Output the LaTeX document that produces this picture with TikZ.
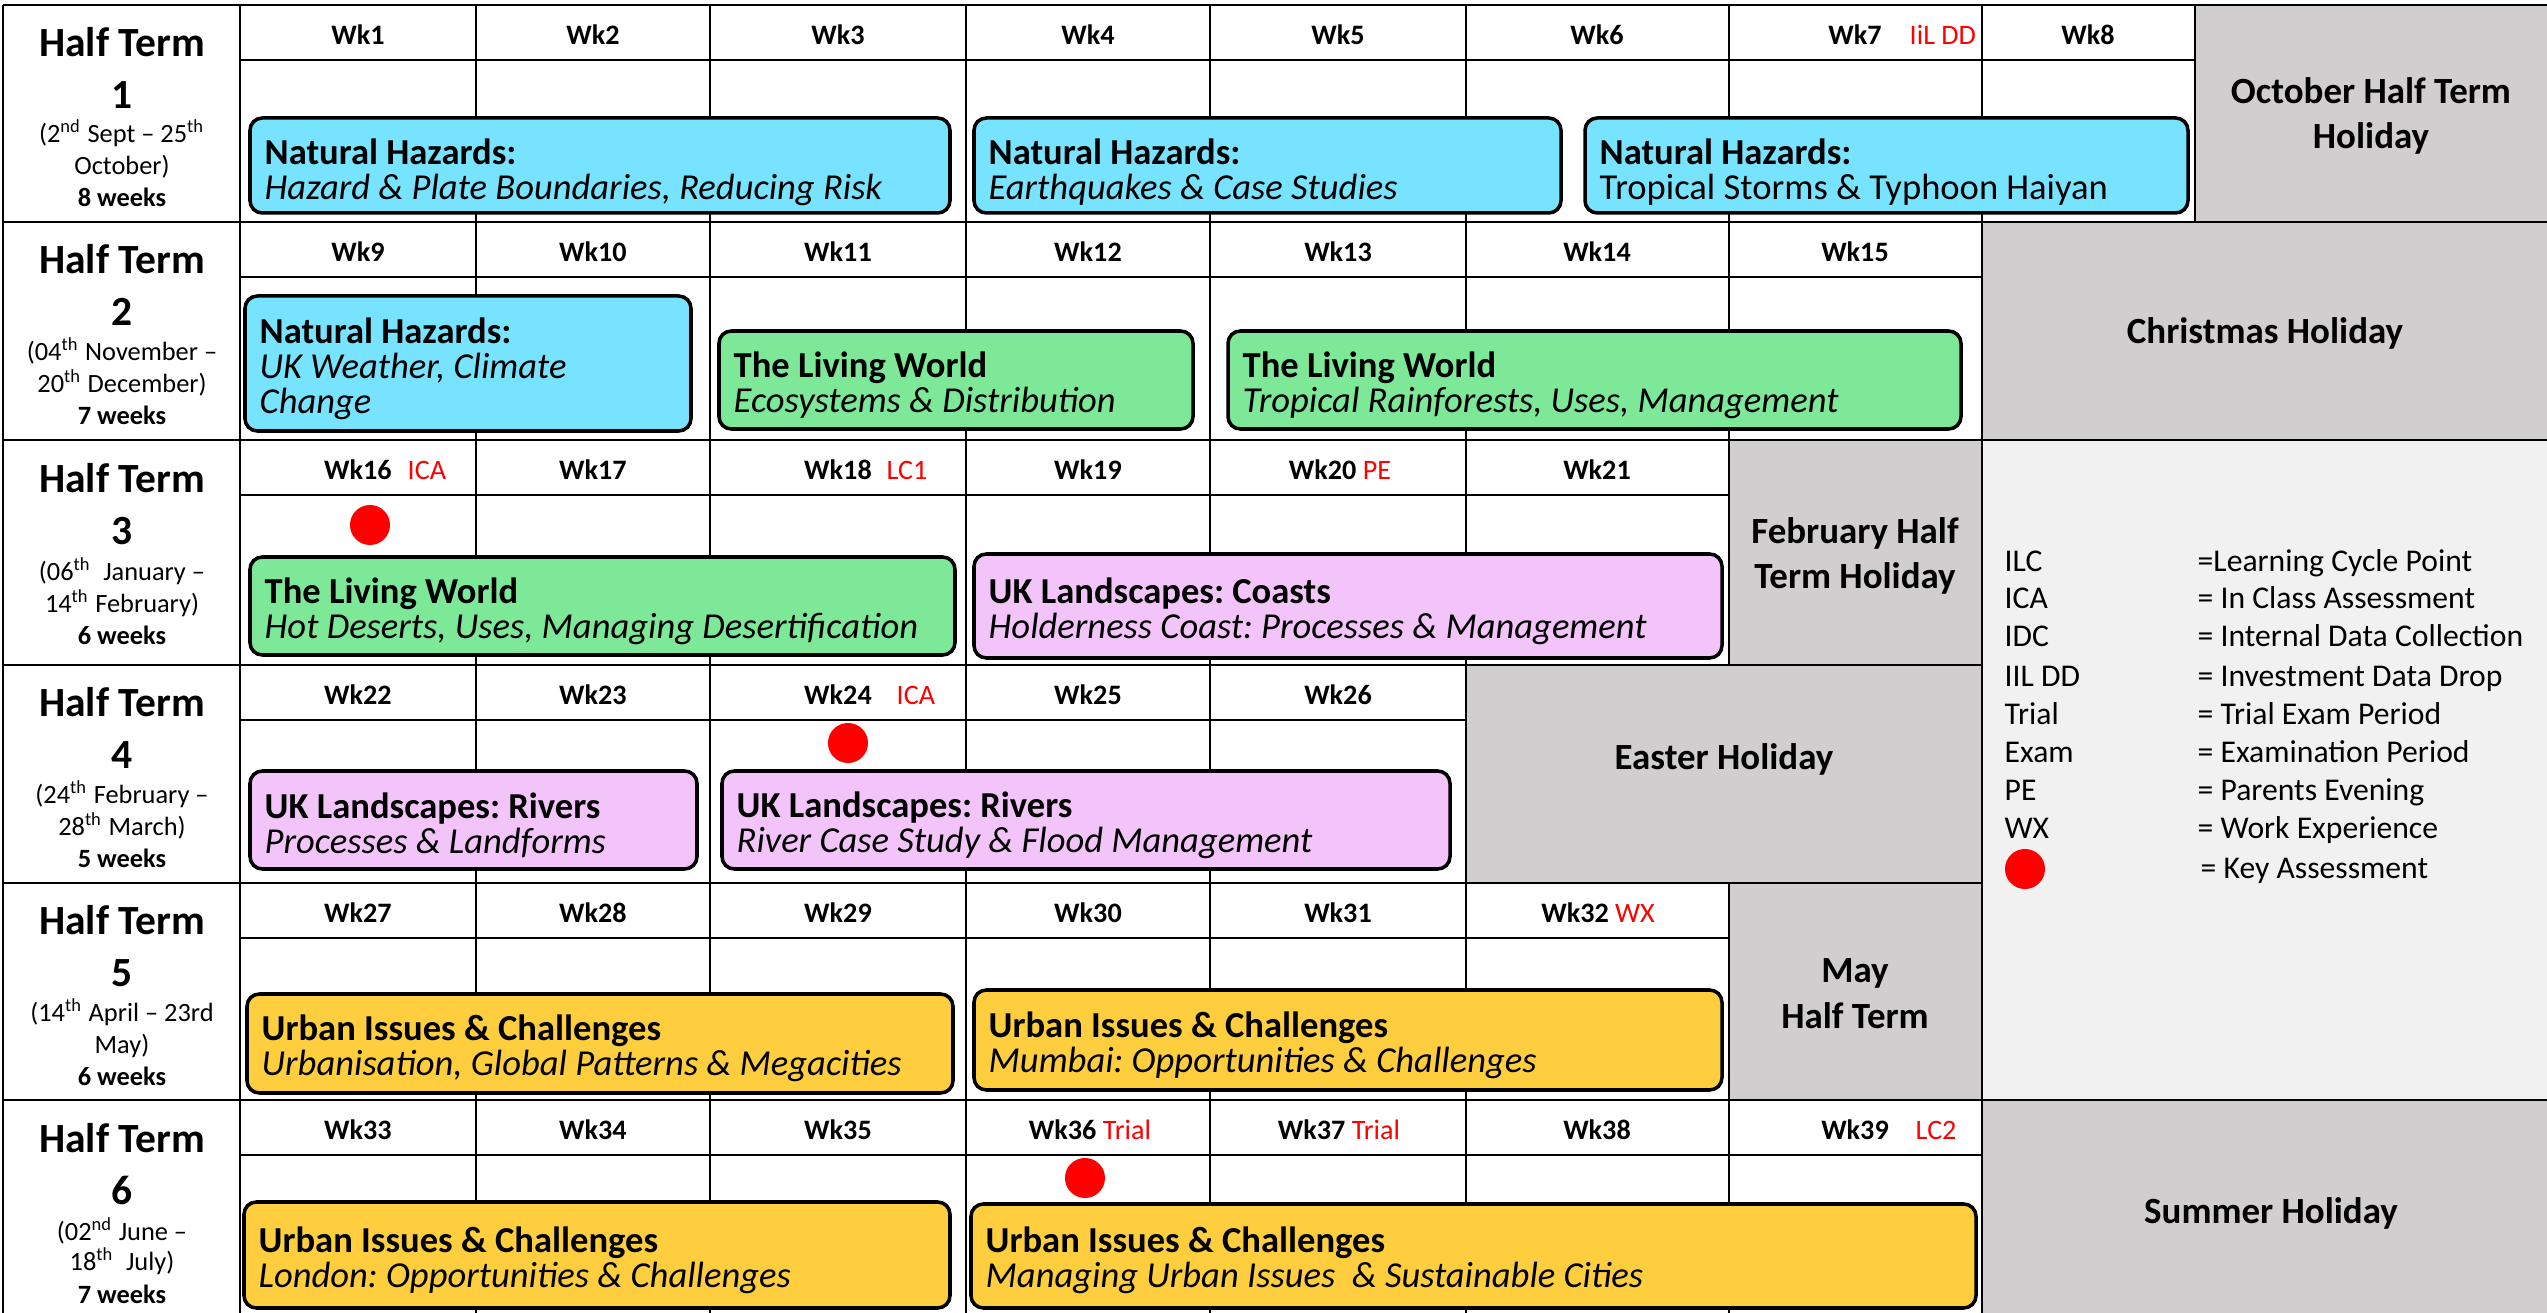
\documentclass[tikz,border=0pt]{standalone}
\usepackage{fontspec}
\setmainfont{Carlito}
\frenchspacing
\definecolor{hazardcol}{RGB}{120,227,255}
\definecolor{livingcol}{RGB}{125,232,151}
\definecolor{landcol}{RGB}{243,196,250}
\definecolor{urbancol}{RGB}{254,206,62}
\definecolor{holcol}{RGB}{208,206,206}
\definecolor{keycol}{RGB}{241,241,241}
\tikzset{
  rowline/.style={line width=0.7pt},
  wklabel/.style={font=\fontsize{8}{9.6}\selectfont\bfseries, inner sep=0pt},
  flag/.style={font=\fontsize{8}{9.6}\selectfont, text=red, inner sep=0pt, anchor=west},
  htlabel/.style={font=\fontsize{11.8}{14}\selectfont\bfseries, inner sep=0pt, anchor=base},
  htdates/.style={font=\fontsize{7.5}{9}\selectfont, inner sep=0pt, anchor=base},
  htweeks/.style={font=\fontsize{7.5}{9}\selectfont\bfseries, inner sep=0pt, anchor=base},
  unit/.style={draw, line width=1pt, rounded corners=3.5pt},
  unittext/.style={anchor=west, align=left, inner sep=0pt, font=\fontsize{10.4}{9.9}\selectfont},
  holtext/.style={align=center, inner sep=0pt, font=\fontsize{10.5}{13}\selectfont\bfseries},
  keydot/.style={circle, fill=red, inner sep=0pt, minimum size=0.4cm},
  keytext/.style={anchor=base west, inner sep=0pt, font=\fontsize{9}{11}\selectfont},
}
\begin{document}
\begin{tikzpicture}[x=0.01cm, y=-0.01cm]
  \useasboundingbox (0,0) rectangle (2547,1313);
  \clip (0,0) rectangle (2547,1313);
  \fill[white] (0,0) rectangle (2547,1313);
  % key panel behind rows 3-5
  \fill[keycol] (1982,440) rectangle (2547,1100);

  % half term 1
  \begin{scope}[shift={(0,5)}]
    \fill[holcol] (2195,0) rectangle (2547,217);
    \draw[rowline] (3,0) -- (2547,0) (240,55) -- (2195,55);
    \draw[rowline] (3,0) -- (3,217) (240,0) -- (240,217) (476,0) -- (476,217) (710,0) -- (710,217)
      (966,0) -- (966,217) (1210,0) -- (1210,217) (1466,0) -- (1466,217) (1729,0) -- (1729,217)
      (1982,0) -- (1982,217) (2195,0) -- (2195,217);

    \node[htlabel] (ht1) at (122,52) {Half Term};
    \node[htlabel] (num1) at (122,104) {1};
    \node[htdates] (date1a) at (122,138) {(2\textsuperscript{nd} Sept -- 25\textsuperscript{th}};
    \node[htdates] (date1b) at (122,170) {October)};
    \node[htweeks] (wks1) at (122,202) {8 weeks};

    \node[wklabel] (wk1) at (358,30) {Wk1};
    \node[wklabel] (wk2) at (593,30) {Wk2};
    \node[wklabel] (wk3) at (838,30) {Wk3};
    \node[wklabel] (wk4) at (1088,30) {Wk4};
    \node[wklabel] (wk5) at (1338,30) {Wk5};
    \node[wklabel] (wk6) at (1597,30) {Wk6};
    \node[wklabel] (wk7) at (1855,30) {Wk7};
    \node[flag] (flag7) at (1909,30) {IiL DD};
    \node[wklabel] (wk8) at (2088,30) {Wk8};

    \draw[unit, fill=hazardcol] (250,113) rectangle (950,208);
    \node[unittext] (unit1a) at (264,167) {\textbf{Natural Hazards:}\\\textit{Hazard \& Plate Boundaries, Reducing Risk}};
    \draw[unit, fill=hazardcol] (974,113) rectangle (1561,208);
    \node[unittext] (unit1b) at (988,167) {\textbf{Natural Hazards:}\\\textit{Earthquakes \& Case Studies}};
    \draw[unit, fill=hazardcol] (1585,113) rectangle (2188,208);
    \node[unittext] (unit1c) at (1599,167) {\textbf{Natural Hazards:}\\Tropical Storms \& Typhoon Haiyan};

    \node[holtext] (hol1) at (2371,111) {October Half Term\\Holiday};
  \end{scope}

  % half term 2
  \begin{scope}[shift={(0,222)}]
    \fill[holcol] (1982,0) rectangle (2547,218);
    \draw[rowline] (3,0) -- (2547,0) (240,55) -- (1982,55);
    \draw[rowline] (3,0) -- (3,218) (240,0) -- (240,218) (476,0) -- (476,218) (710,0) -- (710,218)
      (966,0) -- (966,218) (1210,0) -- (1210,218) (1466,0) -- (1466,218) (1729,0) -- (1729,218)
      (1982,0) -- (1982,218);

    \node[htlabel] (ht2) at (122,52) {Half Term};
    \node[htlabel] (num2) at (122,104) {2};
    \node[htdates] (date2a) at (122,139) {(04\textsuperscript{th} November --};
    \node[htdates] (date2b) at (122,171) {20\textsuperscript{th} December)};
    \node[htweeks] (wks2) at (122,203) {7 weeks};

    \node[wklabel] (wk9) at (358,30) {Wk9};
    \node[wklabel] (wk10) at (593,30) {Wk10};
    \node[wklabel] (wk11) at (838,30) {Wk11};
    \node[wklabel] (wk12) at (1088,30) {Wk12};
    \node[wklabel] (wk13) at (1338,30) {Wk13};
    \node[wklabel] (wk14) at (1597,30) {Wk14};
    \node[wklabel] (wk15) at (1855,30) {Wk15};

    \draw[unit, fill=hazardcol] (245,74) rectangle (691,209);
    \node[unittext] (unit2a) at (259,147) {\textbf{Natural Hazards:}\\\textit{UK Weather, Climate}\\\textit{Change}};
    \draw[unit, fill=livingcol] (719,109) rectangle (1193,207);
    \node[unittext] (unit2b) at (733,163) {\textbf{The Living World}\\\textit{Ecosystems \& Distribution}};
    \draw[unit, fill=livingcol] (1228,109) rectangle (1961,207);
    \node[unittext] (unit2c) at (1242,163) {\textbf{The Living World}\\\textit{Tropical Rainforests, Uses, Management}};

    \node[holtext, anchor=base] (hol2) at (2265,122) {Christmas Holiday};
  \end{scope}

  % half term 3
  \begin{scope}[shift={(0,440)}]
    \fill[holcol] (1729,0) rectangle (1982,225);
    \draw[rowline] (3,0) -- (2547,0) (240,55) -- (1729,55);
    \draw[rowline] (3,0) -- (3,225) (240,0) -- (240,225) (476,0) -- (476,225) (710,0) -- (710,225)
      (966,0) -- (966,225) (1210,0) -- (1210,225) (1466,0) -- (1466,225) (1729,0) -- (1729,225)
      (1982,0) -- (1982,225);

    \node[htlabel] (ht3) at (122,53) {Half Term};
    \node[htlabel] (num3) at (122,105) {3};
    \node[htdates] (date3a) at (122,141) {(06\textsuperscript{th}\ \ January --};
    \node[htdates] (date3b) at (122,173) {14\textsuperscript{th} February)};
    \node[htweeks] (wks3) at (122,205) {6 weeks};

    \node[wklabel] (wk16) at (358,30) {Wk16};
    \node[flag] (flag16) at (407,30) {ICA};
    \node[wklabel] (wk17) at (593,30) {Wk17};
    \node[wklabel] (wk18) at (838,30) {Wk18};
    \node[flag] (flag18) at (886,30) {LC1};
    \node[wklabel] (wk19) at (1088,30) {Wk19};
    \node[wklabel] (wk20) at (1340,30) {Wk20 \textcolor{red}{\mdseries PE}};
    \node[wklabel] (wk21) at (1597,30) {Wk21};

    \node[keydot] (dot16) at (370,85) {};

    \draw[unit, fill=livingcol] (250,117) rectangle (955,215);
    \node[unittext] (unit3a) at (264,171) {\textbf{The Living World}\\\textit{Hot Deserts, Uses, Managing Desertification}};
    \draw[unit, fill=landcol] (974,114) rectangle (1722,218);
    \node[unittext] (unit3b) at (988,171) {\textbf{UK Landscapes: Coasts}\\\textit{Holderness Coast: Processes \& Management}};

    \node[holtext] (hol3) at (1855,116) {February Half\\Term Holiday};
  \end{scope}

  % half term 4
  \begin{scope}[shift={(0,665)}]
    \fill[holcol] (1466,0) rectangle (1982,218);
    \draw[rowline] (3,0) -- (1982,0) (240,55) -- (1466,55);
    \draw[rowline] (3,0) -- (3,218) (240,0) -- (240,218) (476,0) -- (476,218) (710,0) -- (710,218)
      (966,0) -- (966,218) (1210,0) -- (1210,218) (1466,0) -- (1466,218) (1982,0) -- (1982,218);

    \node[htlabel] (ht4) at (122,52) {Half Term};
    \node[htlabel] (num4) at (122,104) {4};
    \node[htdates] (date4a) at (122,139) {(24\textsuperscript{th} February --};
    \node[htdates] (date4b) at (122,171) {28\textsuperscript{th} March)};
    \node[htweeks] (wks4) at (122,203) {5 weeks};

    \node[wklabel] (wk22) at (358,30) {Wk22};
    \node[wklabel] (wk23) at (593,30) {Wk23};
    \node[wklabel] (wk24) at (838,30) {Wk24};
    \node[flag] (flag24) at (896,30) {ICA};
    \node[wklabel] (wk25) at (1088,30) {Wk25};
    \node[wklabel] (wk26) at (1338,30) {Wk26};

    \node[keydot] (dot24) at (848,78) {};

    \draw[unit, fill=landcol] (250,106) rectangle (697,204);
    \node[unittext] (unit4a) at (264,160) {\textbf{UK Landscapes: Rivers}\\\textit{Processes \& Landforms}};
    \draw[unit, fill=landcol] (722,106) rectangle (1450,204);
    \node[unittext] (unit4b) at (736,160) {\textbf{UK Landscapes: Rivers}\\\textit{River Case Study \& Flood Management}};

    \node[holtext, anchor=base] (hol4) at (1724,105) {Easter Holiday};
  \end{scope}

  % half term 5
  \begin{scope}[shift={(0,883)}]
    \fill[holcol] (1729,0) rectangle (1982,217);
    \draw[rowline] (3,0) -- (1982,0) (240,55) -- (1729,55);
    \draw[rowline] (3,0) -- (3,217) (240,0) -- (240,217) (476,0) -- (476,217) (710,0) -- (710,217)
      (966,0) -- (966,217) (1210,0) -- (1210,217) (1466,0) -- (1466,217) (1729,0) -- (1729,217)
      (1982,0) -- (1982,217);

    \node[htlabel] (ht5) at (122,52) {Half Term};
    \node[htlabel] (num5) at (122,104) {5};
    \node[htdates] (date5a) at (122,139) {(14\textsuperscript{th} April -- 23rd};
    \node[htdates] (date5b) at (122,171) {May)};
    \node[htweeks] (wks5) at (122,203) {6 weeks};

    \node[wklabel] (wk27) at (358,30) {Wk27};
    \node[wklabel] (wk28) at (593,30) {Wk28};
    \node[wklabel] (wk29) at (838,30) {Wk29};
    \node[wklabel] (wk30) at (1088,30) {Wk30};
    \node[wklabel] (wk31) at (1338,30) {Wk31};
    \node[wklabel] (wk32) at (1598,30) {Wk32 \textcolor{red}{\mdseries WX}};

    \draw[unit, fill=urbancol] (247,111) rectangle (953,210);
    \node[unittext] (unit5a) at (261,165) {\textbf{Urban Issues \& Challenges}\\\textit{Urbanisation, Global Patterns \& Megacities}};
    \draw[unit, fill=urbancol] (974,107) rectangle (1722,207);
    \node[unittext] (unit5b) at (988,162) {\textbf{Urban Issues \& Challenges}\\\textit{Mumbai: Opportunities \& Challenges}};

    \node[holtext] (hol5) at (1855,111) {May\\Half Term};
  \end{scope}

  % half term 6
  \begin{scope}[shift={(0,1100)}]
    \fill[holcol] (1982,0) rectangle (2547,220);
    \draw[rowline] (3,0) -- (2547,0) (240,55) -- (1982,55);
    \draw[rowline] (3,0) -- (3,220) (240,0) -- (240,220) (476,0) -- (476,220) (710,0) -- (710,220)
      (966,0) -- (966,220) (1210,0) -- (1210,220) (1466,0) -- (1466,220) (1729,0) -- (1729,220)
      (1982,0) -- (1982,220);

    \node[htlabel] (ht6) at (122,53) {Half Term};
    \node[htlabel] (num6) at (122,105) {6};
    \node[htdates] (date6a) at (122,141) {(02\textsuperscript{nd} June --};
    \node[htdates] (date6b) at (122,171) {18\textsuperscript{th}\ \ July)};
    \node[htweeks] (wks6) at (122,204) {7 weeks};

    \node[wklabel] (wk33) at (358,30) {Wk33};
    \node[wklabel] (wk34) at (593,30) {Wk34};
    \node[wklabel] (wk35) at (838,30) {Wk35};
    \node[wklabel] (wk36) at (1090,30) {Wk36 \textcolor{red}{\mdseries Trial}};
    \node[wklabel] (wk37) at (1339,30) {Wk37 \textcolor{red}{\mdseries Trial}};
    \node[wklabel] (wk38) at (1597,30) {Wk38};
    \node[wklabel] (wk39) at (1855,30) {Wk39};
    \node[flag] (flag39) at (1915,30) {LC2};

    \node[keydot] (dot36) at (1085,78) {};

    \draw[unit, fill=urbancol] (244,102) rectangle (950,208);
    \node[unittext] (unit6a) at (258,160) {\textbf{Urban Issues \& Challenges}\\\textit{London: Opportunities \& Challenges}};
    \draw[unit, fill=urbancol] (971,104) rectangle (1976,208);
    \node[unittext] (unit6b) at (985,160) {\textbf{Urban Issues \& Challenges}\\\textit{Managing Urban Issues\ \ \& Sustainable Cities}};

    \node[holtext, anchor=base] (hol6) at (2271,124) {Summer Holiday};
  \end{scope}

  % key
  \node[keytext] (keyilc) at (2004,572) {ILC};
  \node[keytext] (keyilcx) at (2197,572) {=Learning Cycle Point};
  \node[keytext] (keyica) at (2004,609) {ICA};
  \node[keytext] (keyicax) at (2197,609) {= In Class Assessment};
  \node[keytext] (keyidc) at (2004,647) {IDC};
  \node[keytext] (keyidcx) at (2197,647) {= Internal Data Collection};
  \node[keytext] (keyiil) at (2004,687) {IIL DD};
  \node[keytext] (keyiilx) at (2197,687) {= Investment Data Drop};
  \node[keytext] (keytrial) at (2004,725) {Trial};
  \node[keytext] (keytrialx) at (2197,725) {= Trial Exam Period};
  \node[keytext] (keyexam) at (2004,763) {Exam};
  \node[keytext] (keyexamx) at (2197,763) {= Examination Period};
  \node[keytext] (keype) at (2004,801) {PE};
  \node[keytext] (keypex) at (2197,801) {= Parents Evening};
  \node[keytext] (keywx) at (2004,839) {WX};
  \node[keytext] (keywxx) at (2197,839) {= Work Experience};
  \node[keydot] (keydot) at (2025,869) {};
  \node[keytext] (keydotx) at (2200,879) {= Key Assessment};
\end{tikzpicture}
\end{document}
